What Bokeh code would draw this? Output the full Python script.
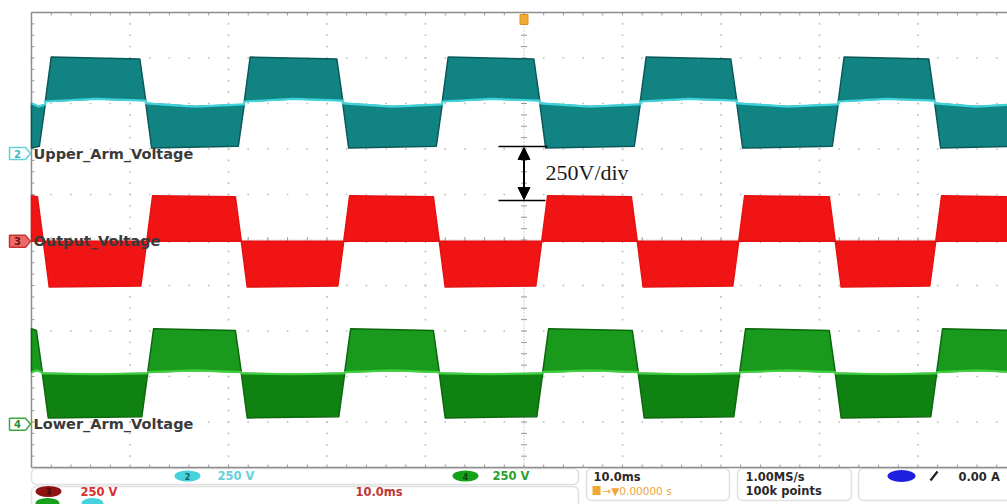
from bokeh.plotting import figure
from bokeh.models import Range1d, BoxAnnotation, Arrow, NormalHead
from bokeh.embed import file_html
from bokeh.resources import INLINE
from bokeh.core.properties import value

# ---------------------------------------------------------------------------
# Acquisition settings
TIME_PER_DIV_MS = 10.0
VOLT_PER_DIV = 250.0

# Channel 2 - upper arm voltage (edges in ms, levels in V)
upper_rise_ms = [1.4, 21.6, 41.7, 61.8, 81.9]
upper_fall_ms = [11.6, 31.6, 51.6, 71.6, 91.7]
upper_high_v = [530, 519]            # plateau at start / end of a positive half
upper_low_v = [30, 40]               # plateau at start / end of a negative half
upper_centre_high_v = [286, 300, 291]  # centre trace: start, middle, end of half
upper_centre_low_v = [276, 258, 270]

# Channel 3 - output voltage
output_rise_ms = [11.7, 31.7, 51.8, 71.8, 91.8]
output_fall_ms = [1.2, 21.3, 41.4, 61.5, 81.6]
output_high_v = [251, 245]
output_low_v = [-251, -245]
output_centre_high_v = [0, 0, 0]
output_centre_low_v = [0, 0, 0]

# Channel 4 - lower arm voltage
lower_rise_ms = [11.8, 31.8, 51.9, 71.9, 91.9]
lower_fall_ms = [1.1, 21.3, 41.4, 61.6, 81.6]
lower_high_v = [525, 515]
lower_low_v = [35, 42]
lower_centre_high_v = [286, 296, 286]
lower_centre_low_v = [280, 275, 280]

channel_numbers = ["2", "3", "4"]
channel_names = ["Upper_Arm_Voltage", "Output_Voltage", "Lower_Arm_Voltage"]
channel_pos_div = [1.90, -0.03, -4.05]   # ground marker position, divisions from centre

# ---------------------------------------------------------------------------
# Screen geometry (pixels, measured from the top-left corner)
W, H = 1007, 504
GX0, GY0 = 31.0, 12.0
DIV_W, DIV_H = 98.5, 45.5
N_DIV = 10
GY1 = GY0 + N_DIV * DIV_H
CX = GX0 + 5 * DIV_W
CY = GY0 + 5 * DIV_H
SLOPE_MS = 0.6


def sy(y):
    return H - y


p = figure(width=W, height=H, x_range=Range1d(0, W), y_range=Range1d(0, H),
           x_axis_type=None, y_axis_type=None, toolbar_location=None,
           output_backend="svg", min_border=0, outline_line_color=None,
           background_fill_color="white", border_fill_color="white")

ms_per_px = TIME_PER_DIV_MS / DIV_W
volt_per_px = VOLT_PER_DIV / DIV_H
T_STOP = (W - GX0) * ms_per_px + 1.0

y_ranges = {}
ground_px = []
for num, pos in zip(channel_numbers, channel_pos_div):
    g = CY - pos * DIV_H
    ground_px.append(g)
    y_ranges["ch" + num] = Range1d(-(H - g) * volt_per_px, g * volt_per_px)
p.extra_x_ranges = {"time": Range1d(-GX0 * ms_per_px, (W - GX0) * ms_per_px)}
p.extra_y_ranges = y_ranges

# ---------------------------------------------------------------------------
# Graticule
grid_color = "#bdbdbd"
vx, vy = [], []
for k in range(1, N_DIV):
    if k == 5:
        continue
    x = GX0 + k * DIV_W
    for j in range(0, N_DIV * 4 + 1):
        vx.append(x)
        vy.append(sy(GY0 + j * DIV_H / 4))
for k in range(1, N_DIV):
    if k == 5:
        continue
    y = GY0 + k * DIV_H
    for j in range(0, N_DIV * 5 + 1):
        vx.append(GX0 + j * DIV_W / 5)
        vy.append(sy(y))
p.rect(x=vx, y=vy, width=1.6, height=1.6, fill_color=grid_color, line_color=None)

# centre cross-hair, dotted, with minor ticks
p.line([CX, CX], [sy(GY0), sy(GY1)], line_color="#a8a8a8", line_dash="1 2", line_width=1)
p.line([GX0, W], [sy(CY), sy(CY)], line_color="#a8a8a8", line_dash="1 2", line_width=1)
tx0, ty0, tx1, ty1 = [], [], [], []
for j in range(0, N_DIV * 4 + 1):
    y = sy(GY0 + j * DIV_H / 4)
    tx0 += [CX - 3, GX0]
    tx1 += [CX + 3, GX0 + 3]
    ty0 += [y, y]
    ty1 += [y, y]
for j in range(0, N_DIV * 5 + 1):
    x = GX0 + j * DIV_W / 5
    tx0 += [x, x, x]
    tx1 += [x, x, x]
    ty0 += [sy(CY - 3), sy(GY0), sy(GY1)]
    ty1 += [sy(CY + 3), sy(GY0 + 3), sy(GY1 - 3)]
p.segment(tx0, ty0, tx1, ty1, line_color="#9a9a9a", line_width=1)

# frame
p.line([GX0, W], [sy(GY0), sy(GY0)], line_color="#8c8c8c", line_width=1.5)
p.line([GX0, W], [sy(GY1), sy(GY1)], line_color="#8c8c8c", line_width=1.5)
p.line([GX0, GX0], [sy(GY0), sy(GY1)], line_color="#8c8c8c", line_width=1.5)


# ---------------------------------------------------------------------------
# Waveforms
def half_cycles(rise, fall, t_stop):
    edges = sorted([(t, "high") for t in rise] + [(t, "low") for t in fall])
    first = "low" if edges[0][1] == "high" else "high"
    bounds = [(0.0, False)] + [(t, True) for t, _ in edges] + [(t_stop, False)]
    kinds = [first] + [k for _, k in edges]
    return [(a, b, ae, be, kind)
            for (a, ae), (b, be), kind in zip(bounds[:-1], bounds[1:], kinds)]


def draw_channel(rise, fall, high, low, c_high, c_low, yname,
                 hi_color, lo_color, edge_color, centre_color):
    polys = {"high": ([], []), "low": ([], [])}
    cx, cy = [], []
    for a, b, ae, be, kind in half_cycles(rise, fall, T_STOP):
        level = high if kind == "high" else low
        centre = c_high if kind == "high" else c_low
        xa = a + SLOPE_MS if ae else a
        xb = b - SLOPE_MS if be else b
        mid = (a + b) / 2
        polys[kind][0].append([a, xa, xb, b, mid])
        polys[kind][1].append([centre[0], level[0], level[1], centre[2], centre[1]])
        cx += [a, mid, b]
        cy += [centre[0], centre[1], centre[2]]
    for kind, color in (("high", hi_color), ("low", lo_color)):
        xs, ys = polys[kind]
        p.patches(xs, ys, x_range_name="time", y_range_name=yname,
                  fill_color=color, line_color=edge_color, line_width=1.5,
                  line_join="round")
    if centre_color:
        p.line(cx, cy, x_range_name="time", y_range_name=yname,
               line_color=centre_color, line_width=2.2)


draw_channel(upper_rise_ms, upper_fall_ms, upper_high_v, upper_low_v,
             upper_centre_high_v, upper_centre_low_v, "ch2",
             "#128383", "#128383", "#0b5859", "#3fd3db")
draw_channel(output_rise_ms, output_fall_ms, output_high_v, output_low_v,
             output_centre_high_v, output_centre_low_v, "ch3",
             "#f01414", "#f01414", "#e51111", None)
draw_channel(lower_rise_ms, lower_fall_ms, lower_high_v, lower_low_v,
             lower_centre_high_v, lower_centre_low_v, "ch4",
             "#1a9a1c", "#0f8211", "#0b690d", "#3fcf3f")

# ---------------------------------------------------------------------------
# Channel ground markers and names
tag_fill = ["white", "#ec6a6a", "white"]
tag_line = ["#5fd2da", "#c83232", "#3aa83a"]
tag_text = ["#3bbcc6", "#6b1010", "#2e8f2e"]
for g, num, name, f, lc, tc in zip(ground_px, channel_numbers, channel_names,
                                   tag_fill, tag_line, tag_text):
    x0 = 9
    p.patch([x0, x0 + 16, x0 + 21, x0 + 16, x0],
            [sy(g - 6), sy(g - 6), sy(g), sy(g + 6), sy(g + 6)],
            fill_color=f, line_color=lc, line_width=1.5)
    p.text(x=[x0 + 8], y=[sy(g)], text=[num], text_font=value("DejaVu Sans"),
           text_font_style="bold", text_font_size="10px", text_color=tc,
           text_align="center", text_baseline="middle")
    p.text(x=[33], y=[sy(g)], text=[name], text_font=value("DejaVu Sans"),
           text_font_style="bold", text_font_size="14.5px", text_color="#3a3a3a",
           text_baseline="middle")

# trigger position marker
p.rect(x=[CX], y=[sy(19)], width=8, height=10, fill_color="#f2a934",
       line_color="#e09020")

# ---------------------------------------------------------------------------
# Scale annotation
p.segment([498, 498], [sy(146), sy(200)], [547, 545], [sy(146), sy(200)],
          line_color="black", line_width=1.5)
p.add_layout(Arrow(x_start=CX, y_start=sy(147), x_end=CX, y_end=sy(199),
                   start=NormalHead(size=12, fill_color="black", line_color="black"),
                   end=NormalHead(size=12, fill_color="black", line_color="black"),
                   line_color="black", line_width=2))
p.text(x=[545], y=[sy(172)], text=["250V/div"], text_font=value("Liberation Serif"),
       text_font_size="22px", text_color="#1a1a1a", text_baseline="middle")

# ---------------------------------------------------------------------------
# Status bar
for left, right, top, bottom in [(31, 578, 468, 484), (31, 578, 486, 514),
                                 (586, 729, 468, 500), (737, 851, 468, 500),
                                 (858, 1030, 468, 500)]:
    p.add_layout(BoxAnnotation(left=left, right=right, top=sy(top), bottom=sy(bottom),
                               fill_color="white", fill_alpha=1.0,
                               line_color="#9a9a9a", line_width=1.5,
                               border_radius=5, level="underlay"))

bar_font = value("DejaVu Sans")
p.ellipse(x=[187, 465, 48, 901, 47, 92], y=[sy(475.5), sy(475.5), sy(491), sy(475.5), sy(503), sy(503)],
          width=[26, 26, 26, 28, 24, 22], height=[11, 11, 11, 12, 11, 11],
          fill_color=["#46d2dc", "#17a01a", "#8e1414", "#1f1fe0", "#17a01a", "#46d2dc"],
          line_color=None)
p.text(x=[187, 465, 48], y=[sy(475.5), sy(475.5), sy(491)], text=["2", "4", "3"],
       text_font=bar_font, text_font_style="bold", text_font_size="8px",
       text_color=["#1b5e66", "#0b4a0b", "#4a0808"], text_align="center",
       text_baseline="middle")
p.text(x=[217, 492, 80, 355], y=[sy(475.5), sy(475.5), sy(491), sy(491)],
       text=["250 V", "250 V", "250  V", "10.0ms"], text_font=bar_font,
       text_font_style="bold", text_font_size="11.5px",
       text_color=["#63d2da", "#2b9f2b", "#d83030", "#c03636"], text_baseline="middle")
p.text(x=[593, 745, 745, 958], y=[sy(476), sy(476), sy(490), sy(476)],
       text=["10.0ms", "1.00MS/s", "100k points", "0.00 A"], text_font=bar_font,
       text_font_style="bold", text_font_size="11.5px", text_color="#2a2a2a",
       text_baseline="middle")
p.rect(x=[596], y=[sy(490)], width=8, height=9, fill_color="#f2a934", line_color=None)
p.text(x=[602], y=[sy(490)], text=["→▼0.00000 s"], text_font=bar_font,
       text_font_size="10.5px", text_color="#f0a43a", text_baseline="middle")
p.segment([930], [sy(480)], [937], [sy(471)], line_color="#222222", line_width=2.2)

open("out.html", "w").write(file_html(p, INLINE))
